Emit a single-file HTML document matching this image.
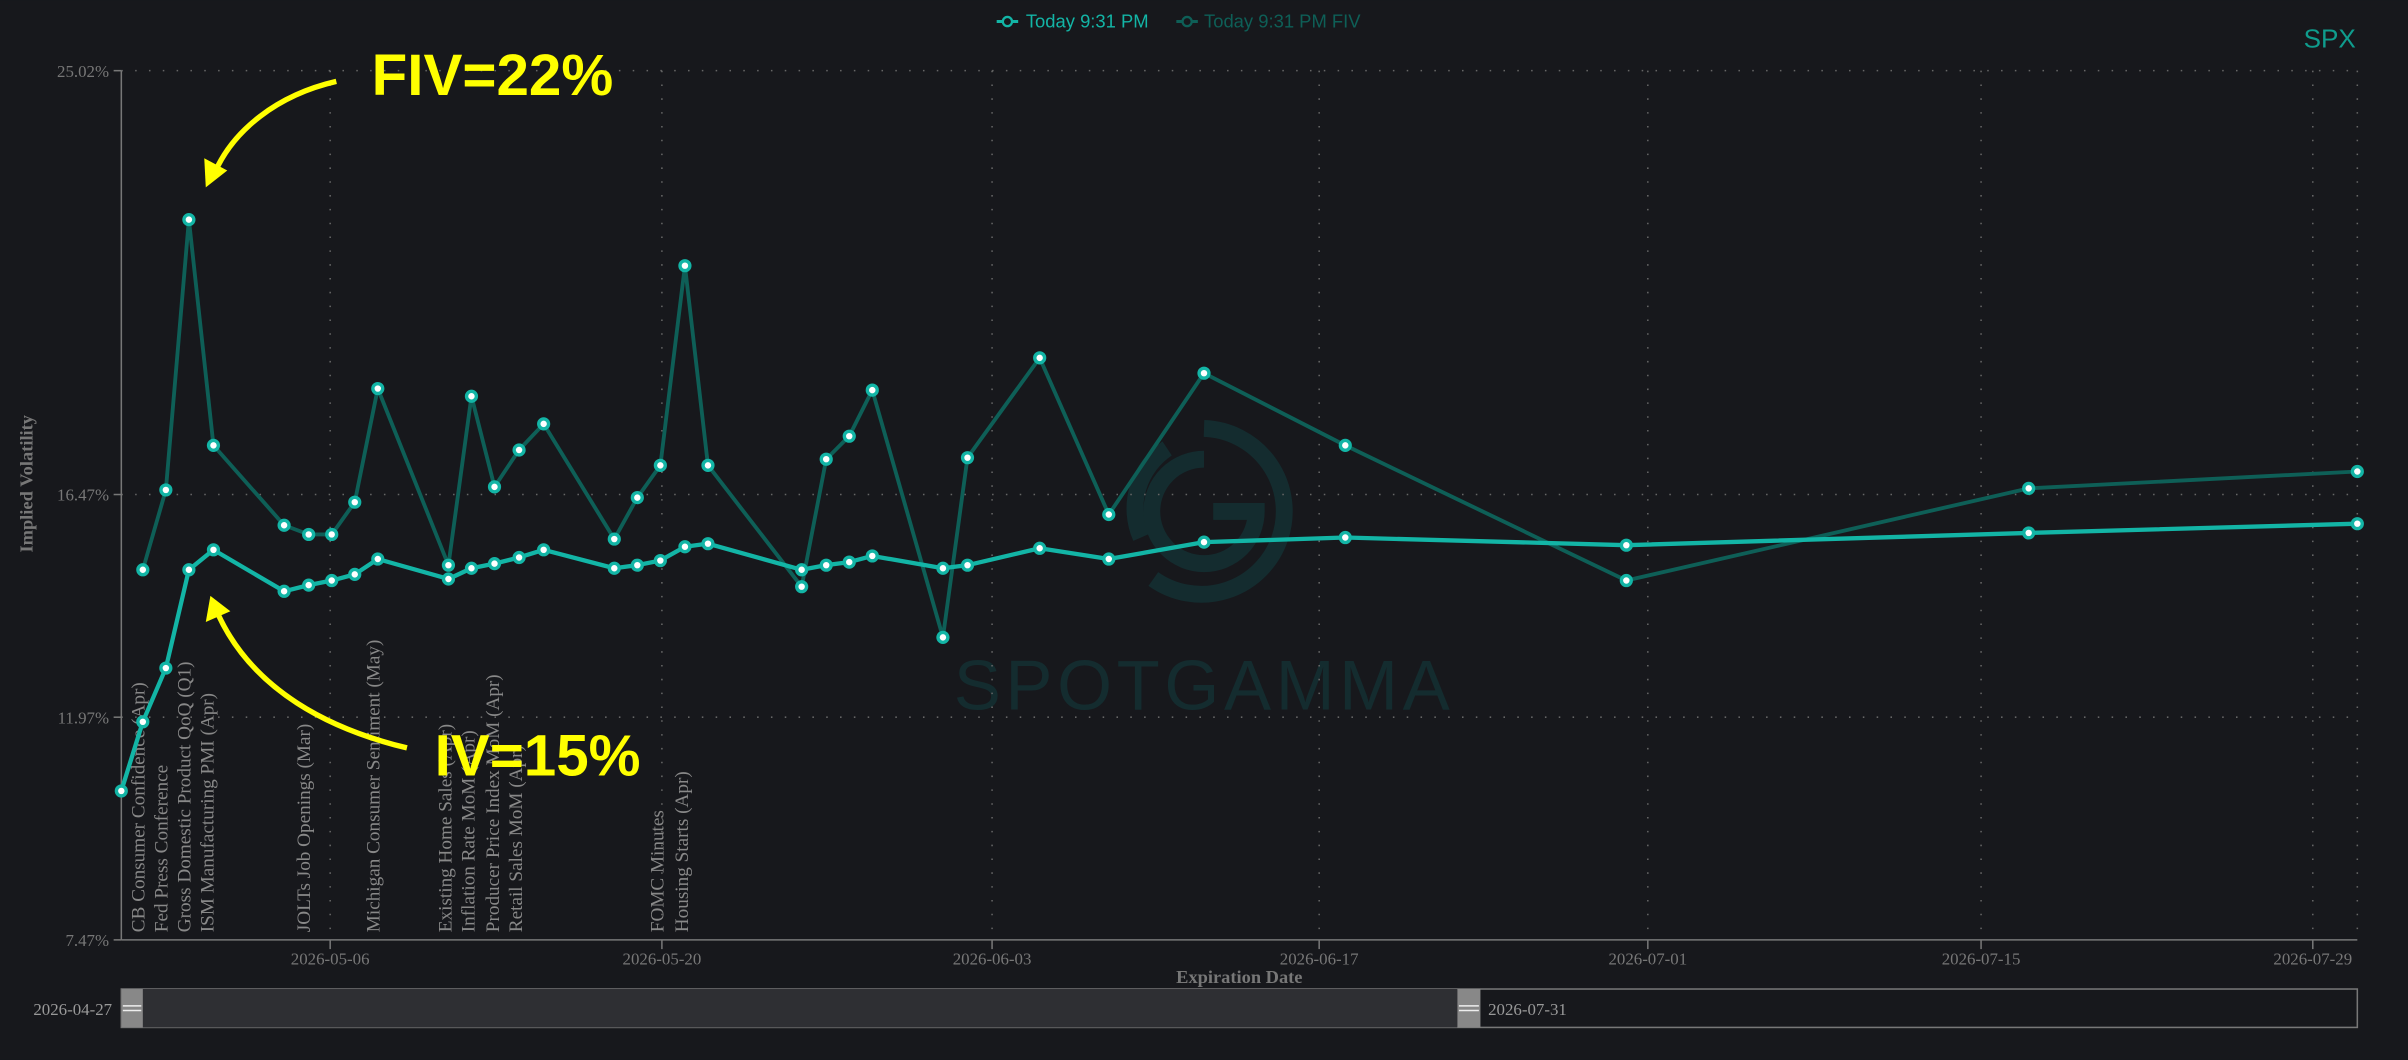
<!DOCTYPE html>
<html><head><meta charset="utf-8"><style>
html,body{margin:0;padding:0;background:#17181c;}
svg{display:block;}
</style></head><body>
<svg width="2408" height="1060" viewBox="0 0 1568 690.2" xmlns="http://www.w3.org/2000/svg">
<rect width="1568" height="690.2" fill="#17181c"/>
<!-- watermark -->
<g fill="none" stroke="#142c2f" stroke-width="11">
<path d="M784,279 A54,54 0 1 1 751,377"/>
<path d="M760,292 A47,47 0 0 0 743,350"/>
<path d="M784,299 A34,34 0 1 0 818,333 L790,333"/>
</g>
<text x="784" y="462" text-anchor="middle" font-family="Liberation Sans, sans-serif" font-size="46" fill="#142c2f" letter-spacing="3">SPOTGAMMA</text>
<!-- grid -->
<g stroke="#666" stroke-width="1" stroke-dasharray="1 8">
<line x1="79" y1="46" x2="1535" y2="46"/>
<line x1="79" y1="322" x2="1535" y2="322"/>
<line x1="79" y1="467" x2="1535" y2="467"/>
<line x1="215" y1="46" x2="215" y2="612"/>
<line x1="431" y1="46" x2="431" y2="612"/>
<line x1="646" y1="46" x2="646" y2="612"/>
<line x1="859" y1="46" x2="859" y2="612"/>
<line x1="1073" y1="46" x2="1073" y2="612"/>
<line x1="1290" y1="46" x2="1290" y2="612"/>
<line x1="1506" y1="46" x2="1506" y2="612"/>
<line x1="1535" y1="46" x2="1535" y2="612"/>
</g>
<!-- axes -->
<g stroke="#777" stroke-width="1">
<line x1="79" y1="46" x2="79" y2="612"/>
<line x1="79" y1="612" x2="1535" y2="612"/>
<line x1="74" y1="46" x2="79" y2="46"/><line x1="74" y1="322" x2="79" y2="322"/>
<line x1="74" y1="467" x2="79" y2="467"/><line x1="74" y1="612" x2="79" y2="612"/>
<line x1="215" y1="612" x2="215" y2="618"/><line x1="431" y1="612" x2="431" y2="618"/>
<line x1="646" y1="612" x2="646" y2="618"/><line x1="859" y1="612" x2="859" y2="618"/>
<line x1="1073" y1="612" x2="1073" y2="618"/><line x1="1290" y1="612" x2="1290" y2="618"/>
<line x1="1506" y1="612" x2="1506" y2="618"/>
</g>
<g font-family="Liberation Serif, serif" font-size="11" fill="#777">
<text x="71" y="50" text-anchor="end">25.02%</text>
<text x="71" y="326" text-anchor="end">16.47%</text>
<text x="71" y="471" text-anchor="end">11.97%</text>
<text x="71" y="616" text-anchor="end">7.47%</text>
<g text-anchor="middle">
<text x="215" y="628">2026-05-06</text><text x="431" y="628">2026-05-20</text>
<text x="646" y="628">2026-06-03</text><text x="859" y="628">2026-06-17</text>
<text x="1073" y="628">2026-07-01</text><text x="1290" y="628">2026-07-15</text>
<text x="1506" y="628">2026-07-29</text>
</g>
<text x="807" y="640" text-anchor="middle" font-weight="bold" font-size="12">Expiration Date</text>
<text transform="translate(21,315) rotate(-90)" text-anchor="middle" font-weight="bold" font-size="12">Implied Volatility</text>
</g>
<!-- event labels -->
<g font-family="Liberation Serif, serif" font-size="12.5" fill="#888">
<text transform="translate(94,607) rotate(-90)">CB Consumer Confidence (Apr)</text>
<text transform="translate(109,607) rotate(-90)">Fed Press Conference</text>
<text transform="translate(124,607) rotate(-90)">Gross Domestic Product QoQ (Q1)</text>
<text transform="translate(139,607) rotate(-90)">ISM Manufacturing PMI (Apr)</text>
<text transform="translate(202,607) rotate(-90)">JOLTs Job Openings (Mar)</text>
<text transform="translate(247,607) rotate(-90)">Michigan Consumer Sentiment (May)</text>
<text transform="translate(294,607) rotate(-90)">Existing Home Sales (Apr)</text>
<text transform="translate(309,607) rotate(-90)">Inflation Rate MoM (Apr)</text>
<text transform="translate(325,607) rotate(-90)">Producer Price Index MoM (Apr)</text>
<text transform="translate(340,607) rotate(-90)">Retail Sales MoM (Apr)</text>
<text transform="translate(432,607) rotate(-90)">FOMC Minutes</text>
<text transform="translate(448,607) rotate(-90)">Housing Starts (Apr)</text>
</g>
<!-- FIV -->
<polyline fill="none" stroke="#0e5f57" stroke-width="2.5" stroke-linejoin="round" points="93,371 108,319 123,143 139,290 185,342 201,348 216,348 231,327 246,253 292,368 307,258 322,317 338,293 354,276 400,351 415,324 430,303 446,173 461,303 522,382 538,299 553,284 568,254 614,415 630,298 677,233 722,335 784,243 876,290 1059,378 1321,318 1535,307"/>
<!-- IV -->
<polyline fill="none" stroke="#13b5a6" stroke-width="2.8" stroke-linejoin="round" points="79,515 93,470 108,435 123,371 139,358 185,385 201,381 216,378 231,374 246,364 292,377 307,370 322,367 338,363 354,358 400,370 415,368 430,365 446,356 461,354 522,371 538,368 553,366 568,362 614,370 630,368 677,357 722,364 784,353 876,350 1059,355 1321,347 1535,341"/>
<g fill="#fff" stroke="#13b5a6" stroke-width="2.2">
<circle cx="93" cy="371" r="3.2"/><circle cx="108" cy="319" r="3.2"/><circle cx="123" cy="143" r="3.2"/><circle cx="139" cy="290" r="3.2"/><circle cx="185" cy="342" r="3.2"/><circle cx="201" cy="348" r="3.2"/><circle cx="216" cy="348" r="3.2"/><circle cx="231" cy="327" r="3.2"/><circle cx="246" cy="253" r="3.2"/><circle cx="292" cy="368" r="3.2"/><circle cx="307" cy="258" r="3.2"/><circle cx="322" cy="317" r="3.2"/><circle cx="338" cy="293" r="3.2"/><circle cx="354" cy="276" r="3.2"/><circle cx="400" cy="351" r="3.2"/><circle cx="415" cy="324" r="3.2"/><circle cx="430" cy="303" r="3.2"/><circle cx="446" cy="173" r="3.2"/><circle cx="461" cy="303" r="3.2"/><circle cx="522" cy="382" r="3.2"/><circle cx="538" cy="299" r="3.2"/><circle cx="553" cy="284" r="3.2"/><circle cx="568" cy="254" r="3.2"/><circle cx="614" cy="415" r="3.2"/><circle cx="630" cy="298" r="3.2"/><circle cx="677" cy="233" r="3.2"/><circle cx="722" cy="335" r="3.2"/><circle cx="784" cy="243" r="3.2"/><circle cx="876" cy="290" r="3.2"/><circle cx="1059" cy="378" r="3.2"/><circle cx="1321" cy="318" r="3.2"/><circle cx="1535" cy="307" r="3.2"/>
<circle cx="79" cy="515" r="3.2"/><circle cx="93" cy="470" r="3.2"/><circle cx="108" cy="435" r="3.2"/><circle cx="123" cy="371" r="3.2"/><circle cx="139" cy="358" r="3.2"/><circle cx="185" cy="385" r="3.2"/><circle cx="201" cy="381" r="3.2"/><circle cx="216" cy="378" r="3.2"/><circle cx="231" cy="374" r="3.2"/><circle cx="246" cy="364" r="3.2"/><circle cx="292" cy="377" r="3.2"/><circle cx="307" cy="370" r="3.2"/><circle cx="322" cy="367" r="3.2"/><circle cx="338" cy="363" r="3.2"/><circle cx="354" cy="358" r="3.2"/><circle cx="400" cy="370" r="3.2"/><circle cx="415" cy="368" r="3.2"/><circle cx="430" cy="365" r="3.2"/><circle cx="446" cy="356" r="3.2"/><circle cx="461" cy="354" r="3.2"/><circle cx="522" cy="371" r="3.2"/><circle cx="538" cy="368" r="3.2"/><circle cx="553" cy="366" r="3.2"/><circle cx="568" cy="362" r="3.2"/><circle cx="614" cy="370" r="3.2"/><circle cx="630" cy="368" r="3.2"/><circle cx="677" cy="357" r="3.2"/><circle cx="722" cy="364" r="3.2"/><circle cx="784" cy="353" r="3.2"/><circle cx="876" cy="350" r="3.2"/><circle cx="1059" cy="355" r="3.2"/><circle cx="1321" cy="347" r="3.2"/><circle cx="1535" cy="341" r="3.2"/>
</g>
<!-- legend -->
<g font-family="Liberation Sans, sans-serif" font-size="12">
<line x1="649" y1="14" x2="663" y2="14" stroke="#13b5a6" stroke-width="2"/><circle cx="656" cy="14" r="3" fill="#17181c" stroke="#13b5a6" stroke-width="1.5"/>
<text x="668" y="18" fill="#13b5a6">Today 9:31 PM</text>
<line x1="766" y1="14" x2="780" y2="14" stroke="#0e5f57" stroke-width="2"/><circle cx="773" cy="14" r="3" fill="#17181c" stroke="#0e5f57" stroke-width="1.5"/>
<text x="784" y="18" fill="#0e5f57">Today 9:31 PM FIV</text>
<text x="1534" y="31" text-anchor="end" fill="#0f9c8d" font-size="17">SPX</text>
</g>
<!-- slider -->
<rect x="79" y="644" width="1456" height="25" fill="#17181c" stroke="#777" stroke-width="1"/>
<rect x="79" y="644" width="870" height="25" fill="#2e2f33"/>
<rect x="79" y="644" width="14" height="25" fill="#888"/>
<rect x="949" y="644" width="15" height="25" fill="#888"/>
<line x1="80" y1="655" x2="92" y2="655" stroke="#eee"/><line x1="80" y1="658" x2="92" y2="658" stroke="#eee"/>
<line x1="950" y1="655" x2="963" y2="655" stroke="#eee"/><line x1="950" y1="658" x2="963" y2="658" stroke="#eee"/>
<g font-family="Liberation Serif, serif" font-size="11" fill="#999">
<text x="73" y="661" text-anchor="end">2026-04-27</text>
<text x="969" y="661">2026-07-31</text>
</g>
<!-- annotations -->
<g font-family="Liberation Sans, sans-serif" font-weight="bold" fill="#ffff00">
<text x="242" y="62" font-size="38">FIV=22%</text>
<text x="283" y="505" font-size="38">IV=15%</text>
</g>
<g fill="none" stroke="#ffff00" stroke-width="3.5">
<path d="M219,53 C180,62 152,85 140,112"/>
<path d="M265,487 C215,475 165,450 142,400"/>
</g>
<g fill="#ffff00">
<polygon points="134,122 133,103 148,111"/>
<polygon points="137,388 134,405 150,398"/>
</g>
</svg>
</body></html>
